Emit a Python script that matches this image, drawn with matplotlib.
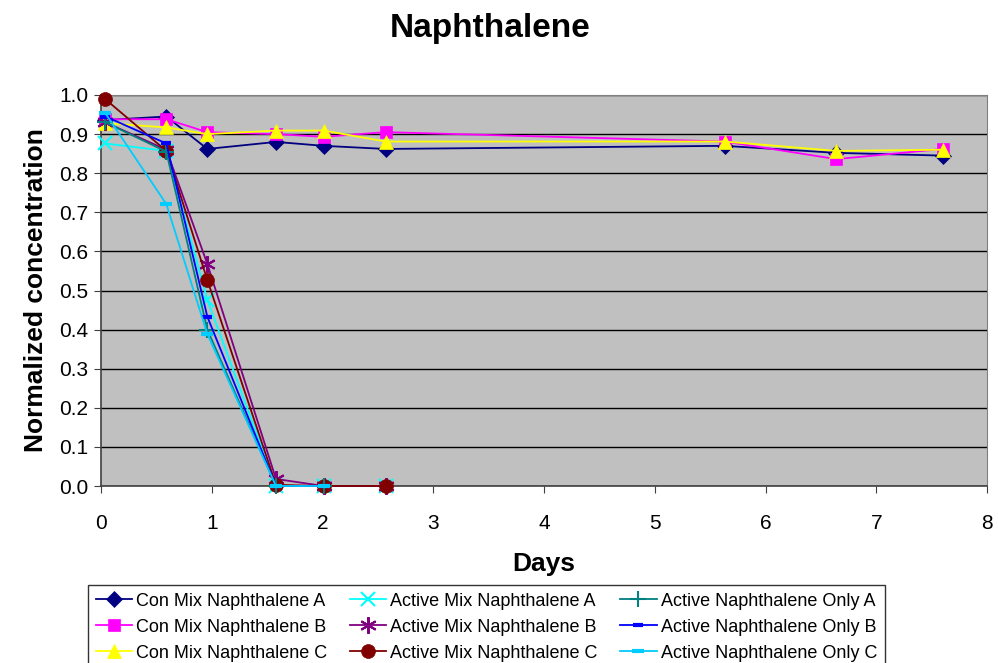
import numpy as np
import matplotlib.pyplot as plt

plt.rcParams['font.family'] = ['Liberation Sans', 'DejaVu Sans']

# sampling times (days)
days = [0.04, 0.59, 0.96, 1.58, 2.01, 2.57, 5.63, 6.64, 7.60]
days_short = [0.04, 0.59, 0.96, 1.58, 2.01, 2.57]
days_only = [0.04, 0.59, 0.96, 1.58, 2.01]

con_a = [0.936, 0.945, 0.862, 0.880, 0.870, 0.862, 0.870, 0.852, 0.845]
con_b = [0.938, 0.938, 0.905, 0.900, 0.893, 0.905, 0.881, 0.836, 0.862]
con_c = [0.928, 0.917, 0.900, 0.909, 0.909, 0.881, 0.881, 0.857, 0.860]

act_mix_a = [0.876, 0.857, 0.476, 0.0, 0.0, 0.0]
act_mix_b = [0.930, 0.860, 0.568, 0.018, 0.0, 0.0]
act_mix_c = [0.989, 0.857, 0.527, 0.003, 0.0, 0.0]

only_a = [0.930, 0.855, 0.400, 0.0, 0.0]
only_b = [0.945, 0.876, 0.433, 0.0, 0.0]
only_c = [0.953, 0.721, 0.389, 0.0, 0.0]

series = [
    ('Con Mix Naphthalene A', days, con_a, '#000080', 'D', 8),
    ('Con Mix Naphthalene B', days, con_b, '#FF00FF', 's', 9),
    ('Con Mix Naphthalene C', days, con_c, '#FFFF00', '^', 10),
    ('Active Mix Naphthalene A', days_short, act_mix_a, '#00FFFF', 'x', 10),
    ('Active Mix Naphthalene B', days_short, act_mix_b, '#800080', (6, 2, 0), 12),
    ('Active Mix Naphthalene C', days_short, act_mix_c, '#800000', 'o', 10),
    ('Active Naphthalene Only A', days_only, only_a, '#008080', '+', 11),
    ('Active Naphthalene Only B', days_only, only_b, '#0000FF', '_', 7),
    ('Active Naphthalene Only C', days_only, only_c, '#00CCFF', '_', 9),
]

fig = plt.figure(figsize=(9.98, 6.63), dpi=100)
ax = fig.add_axes([101 / 998, 1 - 486 / 663, 886 / 998, 391 / 663])
ax.set_facecolor('#C0C0C0')

for name, x, y, c, m, ms in series:
    thin = m in ('x', '+') or isinstance(m, tuple)
    ax.plot(x, y, color=c, marker=m, markersize=ms, linewidth=1.3,
            markeredgewidth=1.5 if thin else (3 if m == '_' else 0.5),
            markeredgecolor=c, label=name, clip_on=False, zorder=3)

ax.set_xlim(0, 8)
ax.set_ylim(0, 1.0)
ax.set_xticks(range(0, 9))
ax.set_yticks(np.arange(0, 1.01, 0.1))
ax.set_yticklabels(['%.1f' % v for v in np.arange(0, 1.01, 0.1)])
ax.yaxis.grid(True, color='black', linewidth=1)
ax.set_axisbelow(True)
ax.tick_params(direction='out', length=5, labelsize=15, color='#404040')
ax.tick_params(axis='x', pad=15)
ax.tick_params(axis='y', pad=4)
for side in ('left', 'bottom'):
    ax.spines[side].set_color('#404040')
    ax.spines[side].set_linewidth(1.2)
for side in ('top', 'right'):
    ax.spines[side].set_color('#808080')

fig.text(490 / 998, 1 - 29 / 663, 'Naphthalene', fontsize=24, fontweight='bold',
         ha='center', va='center')
ax.set_xlabel('Days', fontsize=19, fontweight='bold', labelpad=14)
ax.set_ylabel('Normalized concentration', fontsize=19, fontweight='bold', labelpad=8)

# legend box hangs from just under the x label, three columns of three
leg = fig.legend(loc='upper left', bbox_to_anchor=(88 / 998, 1 - 585 / 663, 797 / 998, 0),
                 mode='expand', ncol=3, fontsize=13, frameon=True, fancybox=False,
                 edgecolor='black', borderaxespad=0, handlelength=2.0, handletextpad=0.25,
                 labelspacing=0.5, borderpad=0.42, columnspacing=1.6)
leg.get_frame().set_linewidth(1.0)

fig.savefig('out.png', dpi=100)
